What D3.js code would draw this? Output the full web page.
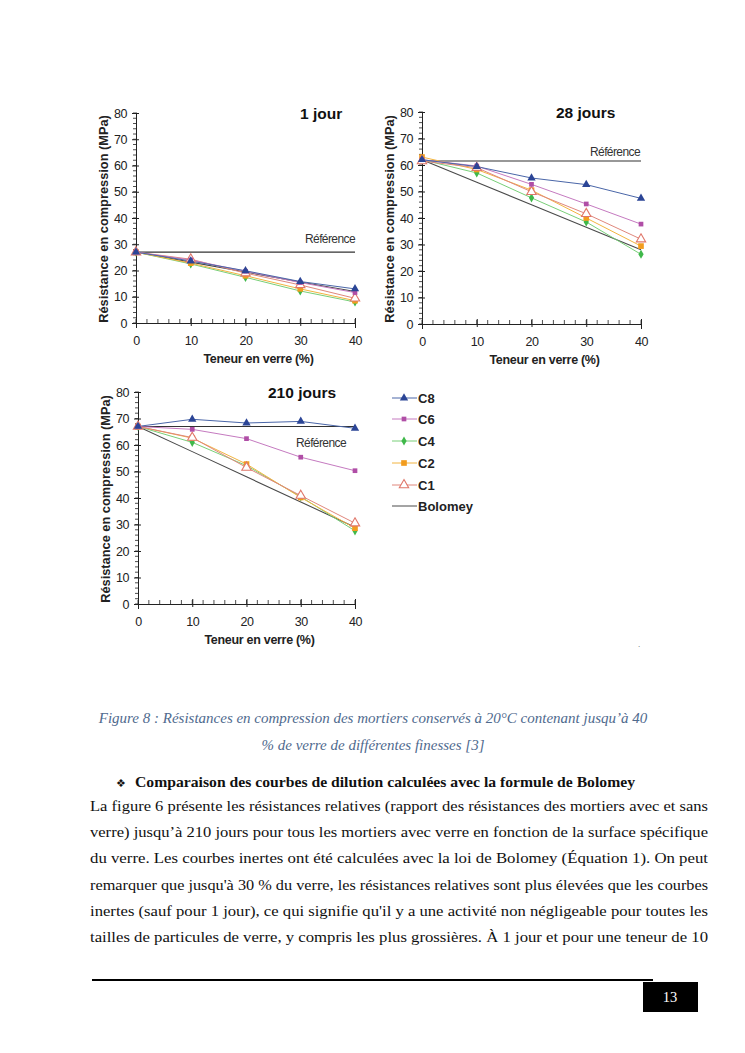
<!DOCTYPE html>
<html>
<head>
<meta charset="utf-8">
<script src="https://cdn.jsdelivr.net/npm/d3@7"></script>
<style>
  body { margin: 0; background: #ffffff; }
  svg { display: block; }
</style>
</head>
<body>
<div id="page"></div>
<script>
var width = 745;
var height = 1053;

// data
var teneur = [0, 10, 20, 30, 40];
var seriesNames = ['C8', 'C6', 'C4', 'C2', 'C1', 'Bolomey'];
var panelTitles = ['1 jour', '28 jours', '210 jours'];
var references = [27, 61.5, 67];
var yTicks = [0, 10, 20, 30, 40, 50, 60, 70, 80];
var xTicks = [0, 10, 20, 30, 40];

// one row per series, same order as seriesNames
var values1j = [
    [27, 23.6, 19.9, 15.8, 13.0],
    [27, 24.0, 19.7, 15.4, 11.6],
    [27, 22.5, 17.4, 12.2, 8.0],
    [27, 22.8, 18.0, 13.0, 8.5],
    [27, 24.3, 19.0, 14.5, 9.4],
    [27, 23.2, 19.4, 15.6, 12.0]
];
var values28j = [
    [62, 59.4, 55.1, 52.6, 47.4],
    [62, 59.6, 52.7, 45.3, 37.7],
    [62, 57.0, 47.6, 38.5, 26.3],
    [63, 58.3, 50.5, 40.0, 29.4],
    [61.5, 59.0, 49.9, 41.6, 32.0],
    [62, 53.5, 45.0, 36.5, 28.0]
];
var values210j = [
    [67, 69.7, 68.3, 68.9, 66.3],
    [67, 65.9, 62.4, 55.4, 50.3],
    [67, 61.0, 52.2, 40.5, 27.6],
    [67, 62.6, 52.8, 40.2, 28.6],
    [67, 62.8, 51.5, 40.9, 30.5],
    [67, 57.5, 48.0, 38.5, 29.0]
];

var lineColors = ['#4a66a8', '#c57ac0', '#78cf78', '#f2b440', '#e0877c', '#4a4a4a'];
var markColors = ['#2b4596', '#b04ea6', '#3fb84a', '#f29c1e', '#e0776a', '#4a4a4a'];

var chartFont = '"Liberation Sans", Arial, sans-serif';
var textFont = '"Liberation Serif", "Times New Roman", serif';

var canvas = d3.select('#page')
    .append('svg')
    .attr('width', width)
    .attr('height', height);

function drawMarker(g, i, x, y) {
    var sym;
    if (i == 0) {
        sym = g.append('path').attr('d', d3.symbol(d3.symbolTriangle, 30)())
            .attr('fill', markColors[i]);
    } else if (i == 1) {
        sym = g.append('path').attr('d', d3.symbol(d3.symbolSquare, 22)())
            .attr('fill', markColors[i]);
    } else if (i == 2) {
        sym = g.append('path').attr('d', d3.symbol(d3.symbolDiamond, 24)())
            .attr('fill', markColors[i]);
    } else if (i == 3) {
        sym = g.append('path').attr('d', d3.symbol(d3.symbolSquare, 32)())
            .attr('fill', markColors[i]);
    } else if (i == 4) {
        sym = g.append('path').attr('d', d3.symbol(d3.symbolTriangle, 38)())
            .attr('fill', '#ffffff')
            .attr('stroke', markColors[i])
            .attr('stroke-width', 1.1);
    } else {
        return;
    }
    sym.attr('transform', 'translate(' + x + ',' + y + ')');
}

function drawPanel(p) {
    var xs = d3.scaleLinear().domain([0, 40]).range([p.left, p.right]);
    var ys = d3.scaleLinear().domain([0, 80]).range([p.bottom, p.top]);
    var g = canvas.append('g');

    // minor ticks every 2
    var minor = d3.range(0, 81, 2);
    var minorX = d3.range(0, 41, 2);

    var yAxis = d3.axisLeft(ys).tickValues(yTicks).tickSize(4).tickPadding(5)
        .tickFormat(d3.format('d'));
    var gy = g.append('g').attr('transform', 'translate(' + p.left + ',0)').call(yAxis);
    gy.selectAll('.tick line').attr('x2', -4).attr('x1', 3);
    g.append('g').selectAll('line').data(minor).enter().append('line')
        .attr('x1', p.left - 3).attr('x2', p.left + 1)
        .attr('y1', function(d) { return ys(d); })
        .attr('y2', function(d) { return ys(d); })
        .attr('stroke', '#222').attr('stroke-width', 0.8);

    var xAxis = d3.axisBottom(xs).tickValues(xTicks).tickSize(5).tickPadding(8)
        .tickFormat(d3.format('d'));
    var gx = g.append('g').attr('transform', 'translate(0,' + p.bottom + ')').call(xAxis);
    gx.selectAll('.tick line').attr('y1', -5).attr('y2', 3);
    g.append('g').selectAll('line').data(minorX).enter().append('line')
        .attr('x1', function(d) { return xs(d); })
        .attr('x2', function(d) { return xs(d); })
        .attr('y1', p.bottom - 4).attr('y2', p.bottom)
        .attr('stroke', '#222').attr('stroke-width', 0.8);

    g.selectAll('.domain').attr('stroke', '#222').attr('stroke-width', 1);
    g.selectAll('.tick line').attr('stroke', '#222');
    g.selectAll('.tick text').attr('font-family', chartFont).attr('font-size', 12.5)
        .attr('letter-spacing', -0.4)
        .attr('fill', '#222');

    // reference line
    g.append('line')
        .attr('x1', xs(0)).attr('x2', xs(40))
        .attr('y1', ys(p.ref)).attr('y2', ys(p.ref))
        .attr('stroke', '#333').attr('stroke-width', 1.1);
    g.append('text')
        .attr('x', p.refX).attr('y', p.refY)
        .attr('font-family', chartFont).attr('font-size', 12)
        .attr('letter-spacing', -0.6)
        .attr('fill', '#333')
        .text('Référence');

    var line_gen = d3.line()
        .x(function(d, i) { return xs(teneur[i]); })
        .y(function(d) { return ys(d); });

    var order = [5, 2, 3, 4, 1, 0];
    order.forEach(function(si) {
        g.append('path')
            .attr('d', line_gen(p.values[si]))
            .attr('fill', 'none')
            .attr('stroke', lineColors[si])
            .attr('stroke-width', si == 5 ? 1.1 : 1);
    });
    order.forEach(function(si) {
        p.values[si].forEach(function(v, k) {
            drawMarker(g, si, xs(teneur[k]), ys(v));
        });
    });

    // titles
    g.append('text')
        .attr('x', p.titleX).attr('y', p.top + 6)
        .attr('font-family', chartFont).attr('font-size', 15.5)
        .attr('font-weight', 'bold').attr('fill', '#111')
        .text(p.title);

    g.append('text')
        .attr('transform', 'translate(' + (p.left - 28) + ',' + ((p.top + p.bottom) / 2 + 1) + ') rotate(-90)')
        .attr('text-anchor', 'middle')
        .attr('font-family', chartFont).attr('font-size', 12.8)
        .attr('font-weight', 'bold').attr('fill', '#222')
        .text('Résistance en compression (MPa)');

    g.append('text')
        .attr('x', (p.left + p.right) / 2 + 13).attr('y', p.bottom + 40)
        .attr('text-anchor', 'middle')
        .attr('font-family', chartFont).attr('font-size', 12.5)
        .attr('font-weight', 'bold').attr('fill', '#222')
        .attr('letter-spacing', -0.3)
        .text('Teneur en verre (%)');
}

drawPanel({ left: 136, right: 355, top: 113, bottom: 323, ref: references[0],
    values: values1j, title: panelTitles[0], titleX: 300, refX: 305, refY: 243 });
drawPanel({ left: 422, right: 641, top: 112, bottom: 324, ref: references[1],
    values: values28j, title: panelTitles[1], titleX: 556, refX: 590, refY: 156 });
drawPanel({ left: 138, right: 355, top: 392, bottom: 604, ref: references[2],
    values: values210j, title: panelTitles[2], titleX: 268, refX: 296, refY: 447 });

// legend
var legendY = [398, 419, 441, 463, 485, 506];
var legend = canvas.selectAll('g.legend')
    .data(seriesNames)
    .enter()
    .append('g')
    .attr('class', 'legend')
    .attr('transform', function(d, i) { return 'translate(392,' + legendY[i] + ')'; });
legend.append('line')
    .attr('x1', 0).attr('x2', 25)
    .attr('stroke', function(d, i) { return lineColors[i]; })
    .attr('stroke-width', 1);
legend.each(function(d, i) { drawMarker(d3.select(this), i, 12, 0); });
legend.append('text')
    .attr('x', 26).attr('y', 5)
    .attr('font-family', chartFont).attr('font-size', 13)
    .attr('font-weight', 'bold').attr('fill', '#222')
    .text(function(d) { return d; });

canvas.append('text').attr('x', 638).attr('y', 647)
    .attr('font-family', chartFont).attr('font-size', 8).attr('fill', '#555').text('.');

// caption
var captionLines = [
    'Figure 8 : Résistances en compression des mortiers conservés à 20°C contenant jusqu’à 40',
    '% de verre de différentes finesses [3]'
];
canvas.selectAll('text.caption')
    .data(captionLines)
    .enter()
    .append('text')
    .attr('class', 'caption')
    .attr('x', 373)
    .attr('y', function(d, i) { return 723 + i * 27; })
    .attr('text-anchor', 'middle')
    .attr('font-family', textFont).attr('font-size', 15)
    .attr('font-style', 'italic').attr('fill', '#4f6a8e')
    .text(function(d) { return d; });

// heading
canvas.append('text').attr('x', 116).attr('y', 787)
    .attr('font-family', '"DejaVu Sans", sans-serif').attr('font-size', 11)
    .attr('fill', '#111').text('❖');
canvas.append('text').attr('x', 135).attr('y', 787)
    .attr('font-family', textFont).attr('font-size', 15)
    .attr('font-weight', 'bold').attr('fill', '#111')
    .attr('textLength', 500).attr('lengthAdjust', 'spacingAndGlyphs')
    .text('Comparaison des courbes de dilution calculées avec la formule de Bolomey');

// body text, justified lines
var bodyLines = [
    'La figure 6 présente les résistances relatives (rapport des résistances des mortiers avec et sans',
    'verre) jusqu’à 210 jours pour tous les mortiers avec verre en fonction de la surface spécifique',
    'du verre. Les courbes inertes ont été calculées avec la loi de Bolomey (Équation 1). On peut',
    'remarquer que jusqu\'à 30 % du verre, les résistances relatives sont plus élevées que les courbes',
    'inertes (sauf pour 1 jour), ce qui signifie qu\'il y a une activité non négligeable pour toutes les',
    'tailles de particules de verre, y compris les plus grossières. À 1 jour et pour une teneur de 10'
];
var bodyWidth = 618;
canvas.selectAll('text.body')
    .data(bodyLines)
    .enter()
    .append('text')
    .attr('class', 'body')
    .attr('x', 90)
    .attr('y', function(d, i) { return 811 + i * 26.2; })
    .attr('font-family', textFont).attr('font-size', 15)
    .attr('fill', '#111')
    .attr('textLength', bodyWidth).attr('lengthAdjust', 'spacingAndGlyphs')
    .text(function(d) { return d; });

// footer
canvas.append('line').attr('x1', 92).attr('x2', 653).attr('y1', 980).attr('y2', 980)
    .attr('stroke', '#000').attr('stroke-width', 2);
canvas.append('rect').attr('x', 643).attr('y', 982).attr('width', 55).attr('height', 30)
    .attr('fill', '#000');
canvas.append('text').attr('x', 670).attr('y', 1002).attr('text-anchor', 'middle')
    .attr('font-family', textFont).attr('font-size', 14.5).attr('fill', '#fff').text('13');
</script>
</body>
</html>
